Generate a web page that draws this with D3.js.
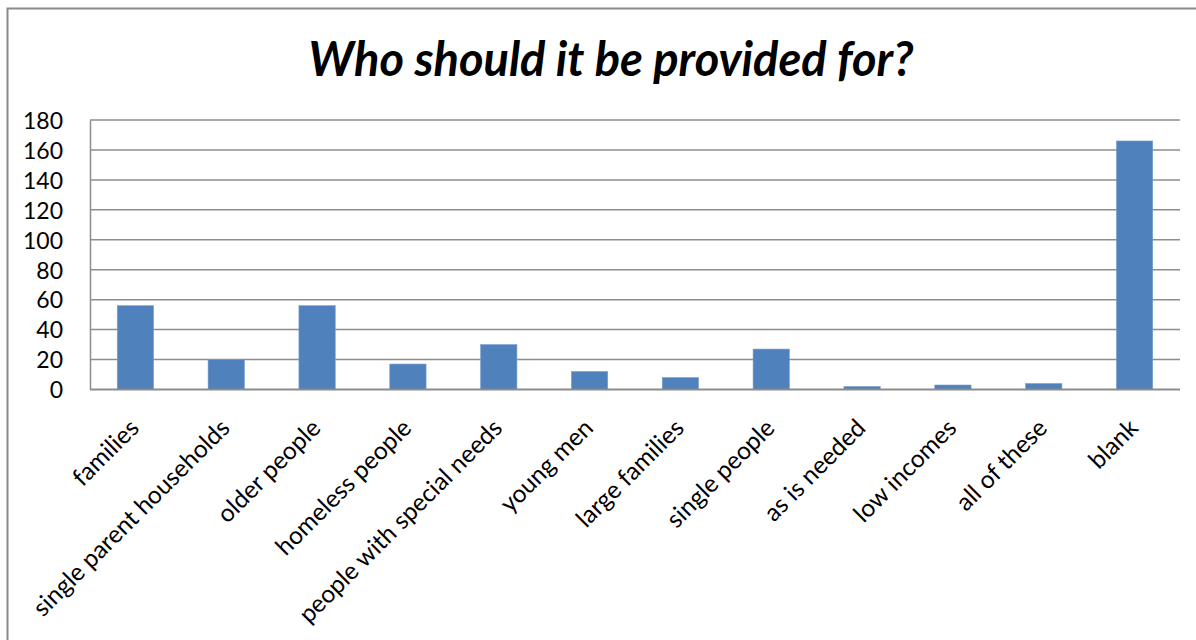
<!DOCTYPE html>
<html>
<head>
<meta charset="utf-8">
<script src="https://cdn.jsdelivr.net/npm/d3@7/dist/d3.min.js"></script>
<style>
  html, body { margin: 0; padding: 0; background: #fff; }
  svg { display: block; }
  text { font-family: Lato, "Open Sans", "Liberation Sans", sans-serif; fill: #000; }
</style>
</head>
<body>
<svg id="chart" width="1196" height="640"></svg>
<script>
// Responses per group
const categories = [
  "families", "single parent households", "older people", "homeless people",
  "people with special needs", "young men", "large families", "single people",
  "as is needed", "low incomes", "all of these", "blank"
];
const responses = [56, 20, 56, 17, 30, 12, 8, 27, 2, 3, 4, 166];
const yTicks = [0, 20, 40, 60, 80, 100, 120, 140, 160, 180];
const chartTitle = "Who should it be provided for?";

const svg = d3.select("#chart");
const W = 1196, H = 640;
const plot = { left: 90, right: 1180, top: 120, bottom: 389.5 };

// chart frame
svg.append("path")
  .attr("d", `M7.5,${H + 5}V8.5H${W + 5}`)
  .attr("fill", "none")
  .attr("stroke", "#8a8a8a")
  .attr("stroke-width", 2);

svg.append("text")
  .attr("x", 611)
  .attr("y", 76)
  .attr("text-anchor", "middle")
  .style("font-size", "47px")
  .style("font-weight", "bold")
  .style("font-style", "italic")
  .text(chartTitle);

const x = d3.scaleBand()
  .domain(categories)
  .range([plot.left, plot.right])
  .paddingInner(0.6)
  .paddingOuter(0.3);

const y = d3.scaleLinear()
  .domain([0, 180])
  .range([plot.bottom, plot.top]);

// horizontal gridlines
svg.append("g")
  .selectAll("line")
  .data(yTicks.filter(d => d > 0))
  .join("line")
  .attr("x1", plot.left)
  .attr("x2", plot.right)
  .attr("y1", d => y(d))
  .attr("y2", d => y(d))
  .attr("stroke", "#8c8c8c")
  .attr("stroke-width", 1.5);

// bars
svg.append("g")
  .selectAll("rect")
  .data(responses)
  .join("rect")
  .attr("x", (d, i) => x(categories[i]))
  .attr("y", d => y(d))
  .attr("width", x.bandwidth())
  .attr("height", d => y(0) - y(d))
  .attr("fill", "#4f81bd")
  .attr("stroke", "#7aa0d0")
  .attr("stroke-width", 0.6);

// y axis
const yAxis = svg.append("g")
  .attr("transform", `translate(${plot.left},0)`)
  .call(d3.axisLeft(y).tickValues(yTicks).tickSize(0).tickPadding(27));
yAxis.select(".domain").attr("stroke", "#8c8c8c").attr("stroke-width", 1.5);
yAxis.selectAll("text")
  .style("font-size", "23px")
  .style("font-family", "Lato, 'Open Sans', sans-serif")
  .attr("dy", "0.36em");

// x axis
const xAxis = svg.append("g")
  .attr("transform", `translate(0,${plot.bottom})`)
  .call(d3.axisBottom(x).tickSize(0).tickFormat(d => d));
xAxis.select(".domain")
  .attr("d", `M${plot.left},0H${plot.right}`)
  .attr("stroke", "#8c8c8c")
  .attr("stroke-width", 2);
xAxis.selectAll(".tick text")
  .style("font-size", "24.5px")
  .style("font-family", "Lato, 'Open Sans', sans-serif")
  .attr("text-anchor", "end")
  .attr("x", 0)
  .attr("y", 0)
  .attr("dy", 0)
  .attr("transform", "translate(5,40) rotate(-45)");
</script>
</body>
</html>
